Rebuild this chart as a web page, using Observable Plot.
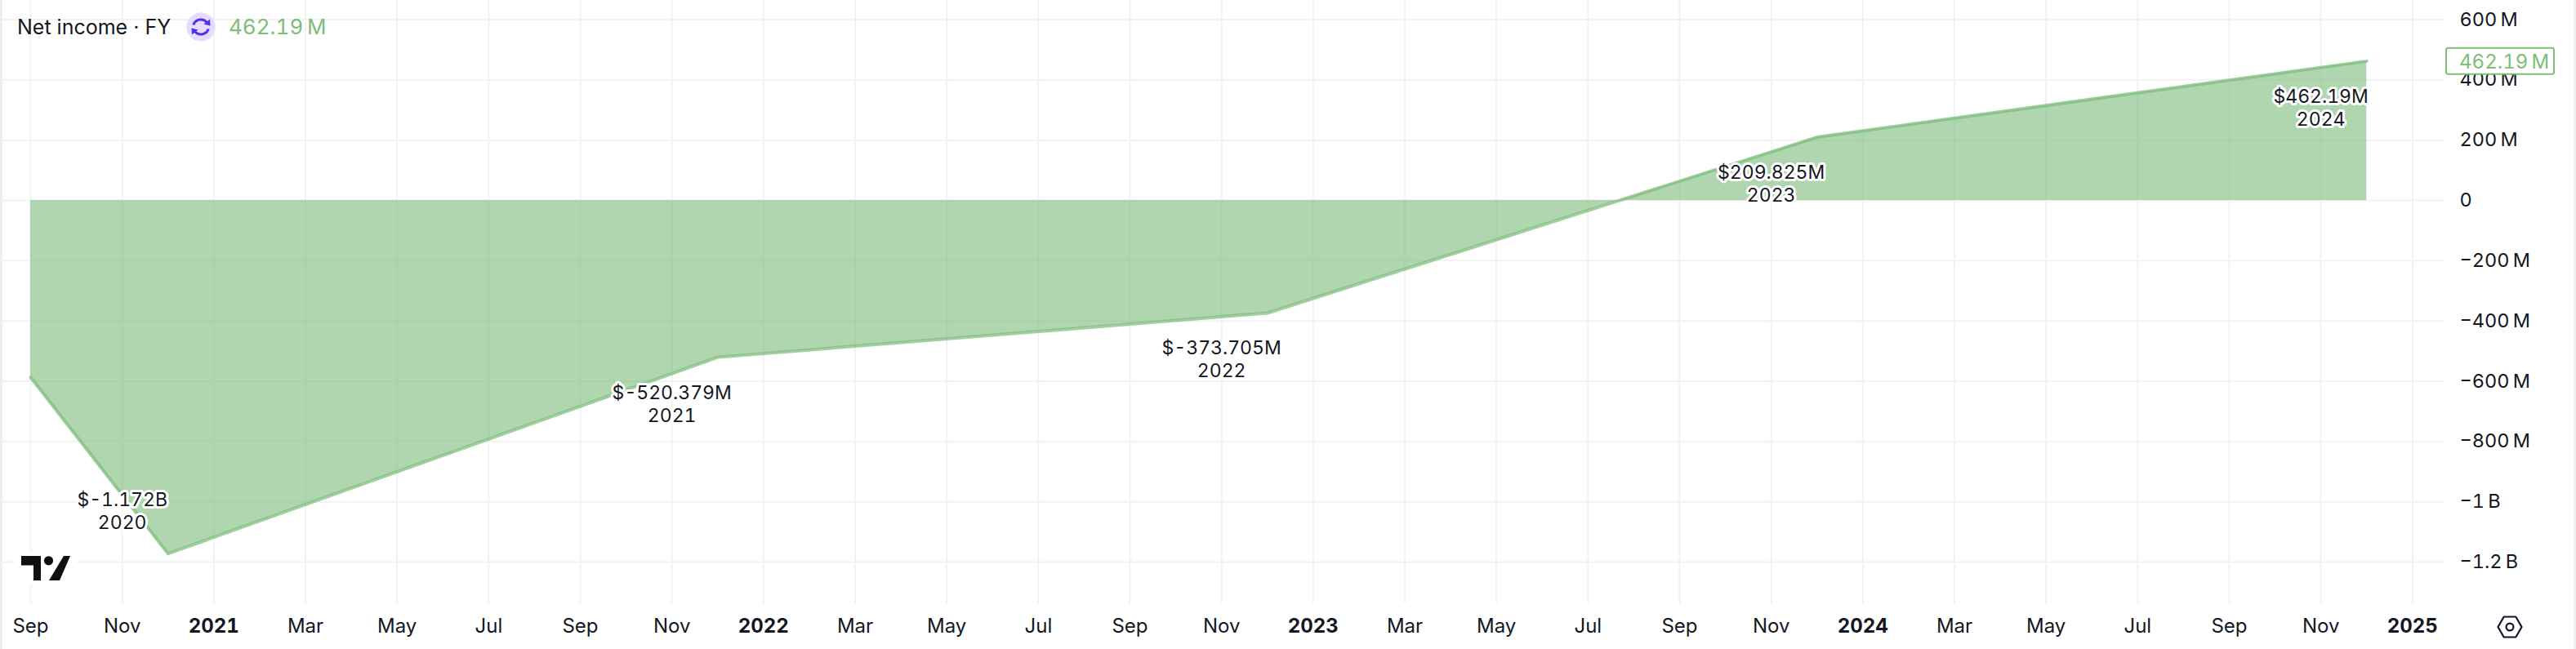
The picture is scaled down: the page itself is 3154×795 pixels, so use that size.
<!DOCTYPE html>
<html>
<head>
<meta charset="utf-8">
<script src="https://cdn.jsdelivr.net/npm/d3@7"></script>
<script src="https://cdn.jsdelivr.net/npm/@observablehq/plot@0.6"></script>
<style>
html,body{margin:0;padding:0;background:#fff;overflow:hidden}
#wrap{position:relative;width:3154px;height:795px;font-family:Inter,sans-serif}
#wrap svg{display:block}
#chart text{font-variant-numeric:tabular-nums;font-feature-settings:"tnum" 1}
#legend{position:absolute;left:21px;top:15px;height:36px;line-height:36px;font-size:25px;color:#131722;white-space:nowrap}
#legend .val{position:absolute;left:259px;top:0;color:#7fbd78;font-size:26px;font-feature-settings:"tnum" 1;font-variant-numeric:tabular-nums}
#legend svg{position:absolute;left:207px;top:0}
.over{position:absolute;left:0;top:0;pointer-events:none}
</style>
</head>
<body>
<div id="wrap">
  <div id="chart"></div>
  <svg class="over" width="3154" height="795">
    <rect x="0" y="0" width="3" height="795" fill="#eeeeee"/>
    <rect x="3151.5" y="0" width="2.5" height="795" fill="#eeeeee"/>
    <rect x="18" y="675" width="76" height="42" fill="#fff"/>
    <path d="M26 681H50V711H41V692.5H26Z M78 681H86L73 711H60Z" fill="#0f0f0f"/>
    <circle cx="59.5" cy="686.8" r="5.6" fill="#0f0f0f"/>
    <path d="M3058.5 768L3065.7 755.5H3080.3L3087.5 768L3080.3 780.5H3065.7Z" fill="none" stroke="#131722" stroke-width="2.2" stroke-linejoin="round"/>
    <circle cx="3073" cy="768" r="4.4" fill="none" stroke="#131722" stroke-width="2.2"/>
  </svg>
  <div id="legend">Net income · FY
    <svg width="40" height="36" viewBox="0 0 40 36">
      <circle cx="18" cy="18" r="17.7" fill="#e3ddff"/>
      <path d="M8.8 15.5A9.6 9.6 0 0 1 26 13.5M27.2 20.5A9.6 9.6 0 0 1 10 22.5" fill="none" stroke="#5a2be8" stroke-width="3"/>
      <path d="M21.5 14.5L29.5 16.5L29 8.5Z M14.5 21.5L6.5 19.5L7 27.5Z" fill="#5a2be8"/>
    </svg>
    <span class="val">462.19&#8201;M</span>
  </div>
</div>
<script>
// Fiscal-year points; the first one is where the line enters the window.
const fiscalMonths = ["2020-09", "2020-12", "2021-12", "2022-12", "2023-12", "2024-12"];
const netIncomeM = [-587, -1172, -520.379, -373.705, 209.825, 462.19];

const labelFiscalMonths = ["2020-12", "2021-12", "2022-12", "2023-12", "2024-12"];
const labelValues = ["$-1.172B", "$-520.379M", "$-373.705M", "$209.825M", "$462.19M"];
const labelYears = ["2020", "2021", "2022", "2023", "2024"];
const labelLevelsM = [-1172, -520.379, -373.705, 209.825, 462.19];

const timeTicks = [
  "2020-09", "2020-11", "2021-01", "2021-03", "2021-05", "2021-07", "2021-09", "2021-11",
  "2022-01", "2022-03", "2022-05", "2022-07", "2022-09", "2022-11",
  "2023-01", "2023-03", "2023-05", "2023-07", "2023-09", "2023-11",
  "2024-01", "2024-03", "2024-05", "2024-07", "2024-09", "2024-11", "2025-01"
];
const timeTickLabels = [
  "Sep", "Nov", "2021", "Mar", "May", "Jul", "Sep", "Nov",
  "2022", "Mar", "May", "Jul", "Sep", "Nov",
  "2023", "Mar", "May", "Jul", "Sep", "Nov",
  "2024", "Mar", "May", "Jul", "Sep", "Nov", "2025"
];
const yTicksM = [-1200, -1000, -800, -600, -400, -200, 0, 200, 400, 600];
const lastValueLabel = "462.19\u2009M";

// The time axis spaces calendar months evenly.
const monthIndex = s => { const [y, m] = s.split("-").map(Number); return (y - 2020) * 12 + (m - 9); };

const series = fiscalMonths.map((m, i) => ({month: monthIndex(m), value: netIncomeM[i]}));
const labels = labelFiscalMonths.map((m, i) => ({
  month: monthIndex(m) - 1,
  value: labelLevelsM[i],
  text: labelValues[i] + "\n" + labelYears[i]
}));
const ticks = timeTicks.map((m, i) => ({month: monthIndex(m), label: timeTickLabels[i]}));
const tickLabel = new Map(ticks.map(t => [t.month, t.label]));
const isYear = t => /^\d{4}$/.test(t.label);

const fmtY = v => {
  if (v === 0) return "0";
  const sign = v < 0 ? "\u2212" : "";
  const a = Math.abs(v);
  return a >= 1000 ? sign + (a / 1000) + "\u2009B" : sign + a + "\u2009M";
};

const textColor = "#131722", gridColor = "#f2f2f2", green = "#7aba78", font = "Inter, sans-serif";
const labelStyle = {x: "month", y: "value", text: "text", fontSize: 23, lineHeight: 1.22, fill: "#131722",
  stroke: "#fff", strokeWidth: 6, fontFamily: font, lineAnchor: "middle", textAnchor: "middle"};

const lastValueBox = (index, scales) => {
  const y = scales.y(netIncomeM[netIncomeM.length - 1]);
  const g = d3.create("svg:g");
  g.append("rect").attr("x", 2995).attr("y", y - 15.5).attr("width", 132).attr("height", 32).attr("rx", 2.5)
    .attr("fill", "#fff").attr("stroke", "#7fbd78").attr("stroke-width", 2);
  g.append("text").attr("x", 3011).attr("y", y + 0.5).attr("dy", "0.36em").attr("font-size", 24)
    .attr("text-anchor", "start").attr("font-family", font).attr("fill", "#7fbd78").text(lastValueLabel);
  return g.node();
};

const chart = Plot.plot({
  width: 3154,
  height: 795,
  marginTop: 0,
  marginBottom: 56,
  marginLeft: 0,
  marginRight: 162,
  style: {fontFamily: font, background: "#fff", overflow: "visible"},
  x: {type: "linear", domain: [-0.66, 52.69], axis: null},
  y: {type: "linear", domain: [-1338, 663.6], axis: null},
  marks: [
    Plot.gridX(ticks.map(t => t.month), {stroke: gridColor, strokeOpacity: 1, strokeWidth: 2}),
    Plot.gridY(yTicksM, {stroke: gridColor, strokeOpacity: 1, strokeWidth: 2}),
    Plot.areaY(series, {x: "month", y1: 0, y2: "value", fill: green, fillOpacity: 0.6, curve: "linear"}),
    Plot.line(series, {x: "month", y: "value", stroke: green, strokeWidth: 4, strokeOpacity: 0.7, curve: "linear"}),
    Plot.text(labels.slice(0, 1), {...labelStyle, dy: -53.5}),
    Plot.text(labels.slice(1), {...labelStyle, dy: 56}),
    Plot.axisX(ticks.filter(t => !isYear(t)).map(t => t.month), {
      anchor: "bottom", tickSize: 0, tickPadding: 18, fontSize: 24, fontWeight: 400, fill: textColor,
      tickFormat: m => tickLabel.get(m), label: null
    }),
    Plot.axisX(ticks.filter(isYear).map(t => t.month), {
      anchor: "bottom", tickSize: 0, tickPadding: 18, fontSize: 24, fontWeight: 700, fill: textColor,
      tickFormat: m => tickLabel.get(m), label: null
    }),
    Plot.axisY(yTicksM, {
      anchor: "right", tickSize: 0, tickPadding: 19, textAnchor: "start", fontSize: 23.5, fill: textColor,
      tickFormat: fmtY, label: null
    }),
    lastValueBox
  ]
});
document.getElementById("chart").appendChild(chart);
</script>
</body>
</html>
